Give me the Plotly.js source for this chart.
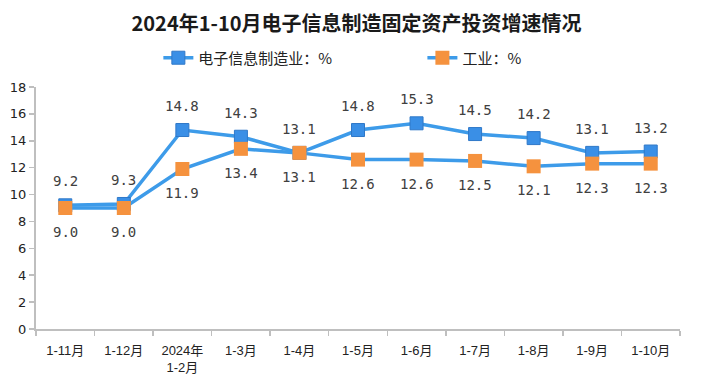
<!DOCTYPE html>
<html><head><meta charset="utf-8">
<script src="https://cdn.plot.ly/plotly-3.0.1.min.js"></script>
<style>html,body{margin:0;padding:0;background:#fff}#chart{width:713px;height:384px}</style>
</head><body><div id="chart"></div>
<script>
const categories = ["1-11月","1-12月","2024年<br>1-2月","1-3月","1-4月","1-5月","1-6月","1-7月","1-8月","1-9月","1-10月"];
const electronics = [9.2,9.3,14.8,14.3,13.1,14.8,15.3,14.5,14.2,13.1,13.2];
const industry = [9.0,9.0,11.9,13.4,13.1,12.6,12.6,12.5,12.1,12.3,12.3];
const nameElectronics = "电子信息制造业：%";
const nameIndustry = "工业：%";
const yTicks = [0,2,4,6,8,10,12,14,16,18];

const lineColor = "#3d9be9";
const labelFont = {family:"DejaVu Sans Mono, monospace", size:14, color:"#404040"};
const legendFont = {family:"Noto Sans CJK SC, sans-serif", size:15, color:"#222"};

const traces = [
  {x:categories, y:electronics, name:nameElectronics, type:"scatter", mode:"lines+markers", legend:"legend",
   line:{color:lineColor, width:3.5},
   marker:{symbol:"square", size:13, color:"#3a8fe6", line:{color:"#2f78c8", width:1}}},
  {x:categories, y:industry, name:nameIndustry, type:"scatter", mode:"lines+markers", legend:"legend2",
   line:{color:lineColor, width:3.5},
   marker:{symbol:"square", size:14, color:"#f5923e", line:{color:"#f5923e", width:0}}}
];

const annotations = [];
categories.forEach((c,i)=>{
  annotations.push({x:c, y:electronics[i], text:electronics[i].toFixed(1), showarrow:false, yshift:24, font:labelFont});
  annotations.push({x:c, y:industry[i], text:industry[i].toFixed(1), showarrow:false, yshift:-24, font:labelFont});
});

const layout = {
  width:713, height:384,
  margin:{l:36, r:33, t:87, b:55},
  paper_bgcolor:"#fff", plot_bgcolor:"#fff",
  title:{text:"<b>2024年1-10月电子信息制造固定资产投资增速情况</b>", x:0.5, xanchor:"center", y:0.938, yanchor:"middle",
         font:{family:"Noto Sans CJK SC, sans-serif", size:20, color:"#1a1a1a"}},
  showlegend:true,
  legend:{orientation:"h", x:0.19, xanchor:"left", y:1.12, yanchor:"middle", font:legendFont},
  legend2:{orientation:"h", x:0.6, xanchor:"left", y:1.12, yanchor:"middle", font:legendFont},
  xaxis:{type:"category", range:[-0.5,10.5], tickson:"boundaries", ticks:"outside", ticklen:5, tickcolor:"#bfbfbf", tickwidth:1.5,
         showline:true, linecolor:"#bfbfbf", linewidth:2, showgrid:false, zeroline:false, ticklabelstandoff:8,
         tickfont:{family:"Liberation Sans, Noto Sans CJK SC, sans-serif", size:13, color:"#222"}},
  yaxis:{range:[0,18], tickvals:yTicks, ticks:"outside", ticklen:5, tickcolor:"#bfbfbf", tickwidth:1.5,
         showline:true, linecolor:"#bfbfbf", linewidth:2, showgrid:false, zeroline:false,
         tickfont:{family:"DejaVu Sans, sans-serif", size:13, color:"#222"}},
  annotations:annotations
};
Plotly.newPlot("chart", traces, layout, {displayModeBar:false, staticPlot:true});
</script></body></html>
